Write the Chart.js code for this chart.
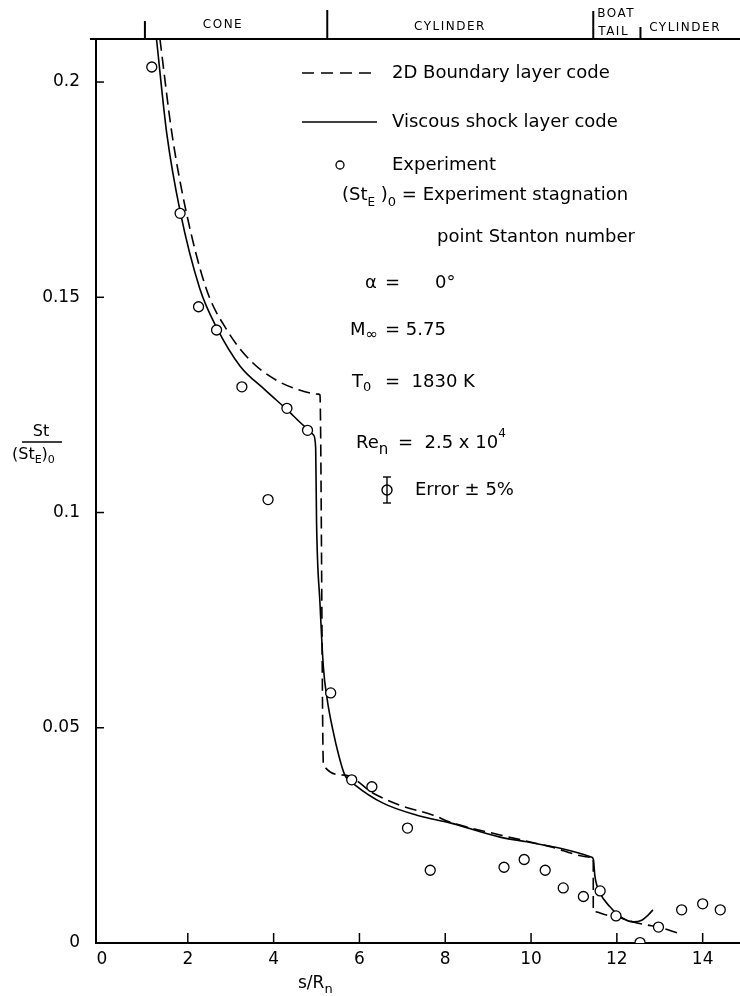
<!DOCTYPE html>
<html>
<head>
<meta charset="utf-8">
<title>Stanton number distribution</title>
<script src="https://cdn.jsdelivr.net/npm/chart.js@4.4.1/dist/chart.umd.min.js"></script>
<style>
  html, body { margin: 0; padding: 0; background: #fff; }
  #wrap { width: 740px; height: 996px; }
</style>
</head>
<body>
<div id="wrap"><canvas id="st-chart" width="740" height="996"></canvas></div>
<script>
// viscous shock layer code (solid)
const vslX = [1.27, 1.51, 1.82, 2.28, 2.67, 3.22, 3.80, 4.30, 4.77, 4.93, 4.98, 5.00, 5.08, 5.16, 5.25, 5.38, 5.52, 5.66, 5.90, 6.55, 7.34, 8.11, 9.28, 9.90, 10.68, 11.40, 11.45, 11.49, 11.61, 11.84, 12.08, 12.39, 12.58, 12.73, 12.84];
const vslY = [0.210, 0.188, 0.170, 0.152, 0.143, 0.134, 0.1285, 0.124, 0.1196, 0.1180, 0.1150, 0.098, 0.079, 0.064, 0.0565, 0.0495, 0.0435, 0.0390, 0.0367, 0.0325, 0.0297, 0.0279, 0.0246, 0.0235, 0.0220, 0.0200, 0.0195, 0.0154, 0.0116, 0.0084, 0.0061, 0.0049, 0.0053, 0.0065, 0.0077];

// 2D boundary layer code (dashed)
const blX = [1.35, 1.63, 1.97, 2.44, 2.91, 3.45, 4.07, 4.62, 5.04, 5.08, 5.16, 5.66, 6.32, 6.95, 7.72, 8.11, 9.28, 10.40, 11.45, 11.45, 11.76, 12.00, 12.38, 12.70, 12.96, 13.43];
const blY = [0.210, 0.188, 0.1695, 0.1517, 0.1424, 0.1354, 0.1307, 0.1284, 0.1275, 0.1273, 0.0413, 0.0390, 0.0348, 0.0320, 0.0297, 0.0281, 0.0251, 0.0225, 0.0199, 0.0073, 0.0065, 0.0061, 0.0049, 0.0042, 0.0037, 0.0023];

// experiment
const expX = [1.16, 1.82, 2.25, 2.67, 3.26, 3.87, 4.31, 4.79, 5.33, 5.82, 6.29, 7.12, 7.65, 9.37, 9.84, 10.33, 10.75, 11.22, 11.61, 11.98, 12.54, 12.97, 13.51, 14.00, 14.41];
const expY = [0.2035, 0.1695, 0.1478, 0.1424, 0.1292, 0.1030, 0.1242, 0.1191, 0.0581, 0.0379, 0.0363, 0.0267, 0.0169, 0.0176, 0.0194, 0.0169, 0.0128, 0.0108, 0.0121, 0.0063, 0.0001, 0.0037, 0.0077, 0.0091, 0.0077];

const xTicks = [0, 2, 4, 6, 8, 10, 12, 14];
const yTicks = [0, 0.05, 0.1, 0.15, 0.2];
const yTickLabels = ['0', '0.05', '0.1', '0.15', '0.2'];

// body stations along s/Rn
const sectionEdges = [1.0, 5.25, 11.45, 12.55];
const sectionNames = ['CONE', 'CYLINDER', 'BOAT', 'TAIL', 'CYLINDER'];

const FONT = '"DejaVu Sans", sans-serif';
const toPoints = (xs, ys) => xs.map((x, i) => ({ x, y: ys[i] }));

function seg(ctx, x1, y1, x2, y2) {
    ctx.beginPath();
    ctx.moveTo(x1, y1);
    ctx.lineTo(x2, y2);
    ctx.stroke();
}

// draws text pieces one after another: [text, size, dy]
function runs(ctx, x, y, parts) {
    parts.forEach(([t, size, dy]) => {
        ctx.font = size + 'px ' + FONT;
        ctx.fillText(t, x, y + (dy || 0));
        x += ctx.measureText(t).width;
    });
}

const annotate = {
    id: 'annotate',
    afterDraw(chart) {
        const { ctx, chartArea: a, scales: { x, y } } = chart;
        ctx.save();
        ctx.strokeStyle = '#000';
        ctx.fillStyle = '#000';
        ctx.textBaseline = 'middle';
        ctx.textAlign = 'left';

        // top frame line and station marks
        ctx.lineWidth = 2;
        seg(ctx, a.left - 6, a.top, a.right, a.top);
        const markLen = [18, 29, 28, 12];
        sectionEdges.forEach((s, i) => {
            const px = x.getPixelForValue(s);
            seg(ctx, px, a.top, px, a.top - markLen[i]);
        });
        ctx.font = '12px ' + FONT;
        ctx.letterSpacing = '1.5px';
        ctx.textAlign = 'center';
        ctx.fillText(sectionNames[0], x.getPixelForValue(2.82), 25);
        ctx.fillText(sectionNames[1], x.getPixelForValue(8.11), 27);
        ctx.textAlign = 'left';
        ctx.fillText(sectionNames[2], x.getPixelForValue(sectionEdges[2]) + 4, 14);
        ctx.fillText(sectionNames[3], x.getPixelForValue(sectionEdges[2]) + 5, 32);
        ctx.textAlign = 'center';
        ctx.fillText(sectionNames[4], x.getPixelForValue(13.59), 28);
        ctx.letterSpacing = '0px';
        ctx.textAlign = 'left';

        // inward tick marks
        ctx.lineWidth = 1.5;
        xTicks.forEach(v => {
            const px = x.getPixelForValue(v);
            if (v > 0) seg(ctx, px, a.bottom, px, a.bottom - 10);
        });
        yTicks.forEach(v => {
            const py = y.getPixelForValue(v);
            if (v > 0) seg(ctx, a.left, py, a.left + 8, py);
        });

        // legend
        ctx.lineWidth = 1.6;
        ctx.setLineDash([12, 7]);
        seg(ctx, 302, 73, 377, 73);
        ctx.setLineDash([]);
        seg(ctx, 302, 122, 377, 122);
        ctx.lineWidth = 1.3;
        ctx.beginPath();
        ctx.arc(340, 165, 4, 0, Math.PI * 2);
        ctx.stroke();
        ctx.font = '18px ' + FONT;
        ctx.fillText('2D Boundary layer code', 392, 73);
        ctx.fillText('Viscous shock layer code', 392, 122);
        ctx.fillText('Experiment', 392, 165);

        // test conditions
        runs(ctx, 342, 195, [['(St', 18], ['E', 12, 8], [' )', 18], ['0', 13, 8], [' = Experiment stagnation', 18]]);
        runs(ctx, 437, 237, [['point Stanton number', 18]]);
        runs(ctx, 365, 283, [['α', 18]]);
        runs(ctx, 385, 283, [['=', 18]]);
        runs(ctx, 435, 283, [['0°', 18]]);
        runs(ctx, 350, 330, [['M', 18], ['∞', 15, 5]]);
        runs(ctx, 385, 330, [['= 5.75', 18]]);
        runs(ctx, 352, 382, [['T', 18], ['0', 13, 6]]);
        runs(ctx, 385, 382, [['=  1830 K', 18]]);
        runs(ctx, 356, 443, [['Re', 18], ['n', 15, 7]]);
        runs(ctx, 398, 443, [['=  2.5 x 10', 18], ['4', 12, -9]]);

        // error bar symbol
        ctx.lineWidth = 1.4;
        seg(ctx, 387, 477, 387, 503);
        seg(ctx, 383, 477, 391, 477);
        seg(ctx, 383, 503, 391, 503);
        ctx.beginPath();
        ctx.arc(387, 490, 5, 0, Math.PI * 2);
        ctx.stroke();
        runs(ctx, 415, 490, [['Error ± 5%', 18]]);

        // axis titles
        ctx.textAlign = 'center';
        ctx.font = '16px ' + FONT;
        ctx.fillText('St', 41, 432);
        ctx.lineWidth = 1.3;
        seg(ctx, 22, 442, 62, 442);
        ctx.textAlign = 'left';
        runs(ctx, 12, 455, [['(St', 16], ['E', 11, 5], [')', 16], ['0', 11, 5]]);
        runs(ctx, 298, 984, [['s/R', 17], ['n', 13, 6]]);

        ctx.restore();
    }
};

new Chart(document.getElementById('st-chart'), {
    type: 'scatter',
    data: {
        datasets: [
            {
                label: 'Experiment',
                data: toPoints(expX, expY),
                pointStyle: 'circle',
                pointRadius: 5,
                backgroundColor: '#fff',
                borderColor: '#000',
                borderWidth: 1.3,
                order: 0
            },
            {
                label: 'Viscous shock layer code',
                data: toPoints(vslX, vslY),
                showLine: true,
                pointRadius: 0,
                borderColor: '#000',
                borderWidth: 1.6,
                cubicInterpolationMode: 'monotone',
                order: 1
            },
            {
                label: '2D Boundary layer code',
                data: toPoints(blX, blY),
                showLine: true,
                pointRadius: 0,
                borderColor: '#000',
                borderWidth: 1.6,
                borderDash: [12, 6],
                cubicInterpolationMode: 'monotone',
                order: 2
            }
        ]
    },
    options: {
        responsive: false,
        animation: false,
        layout: { autoPadding: false, padding: { top: 39, right: 0, left: 0, bottom: 0 } },
        scales: {
            x: {
                type: 'linear',
                min: -0.14,
                max: 14.87,
                afterFit: s => { s.height = 53; },
                afterBuildTicks: s => { s.ticks = xTicks.map(v => ({ value: v })); },
                grid: { display: false, drawTicks: false, tickLength: 0 },
                border: { display: true, color: '#000', width: 2 },
                ticks: { color: '#000', padding: 6, font: { family: FONT, size: 17 } }
            },
            y: {
                type: 'linear',
                min: 0,
                max: 0.21,
                afterFit: s => { s.width = 96; },
                afterBuildTicks: s => { s.ticks = yTicks.map(v => ({ value: v })); },
                grid: { display: false, drawTicks: false, tickLength: 0 },
                border: { display: true, color: '#000', width: 2 },
                ticks: {
                    color: '#000',
                    padding: 16,
                    font: { family: FONT, size: 17 },
                    callback: (v, i) => yTickLabels[i]
                }
            }
        },
        plugins: {
            legend: { display: false },
            tooltip: { enabled: false }
        }
    },
    plugins: [annotate]
});
</script>
</body>
</html>
